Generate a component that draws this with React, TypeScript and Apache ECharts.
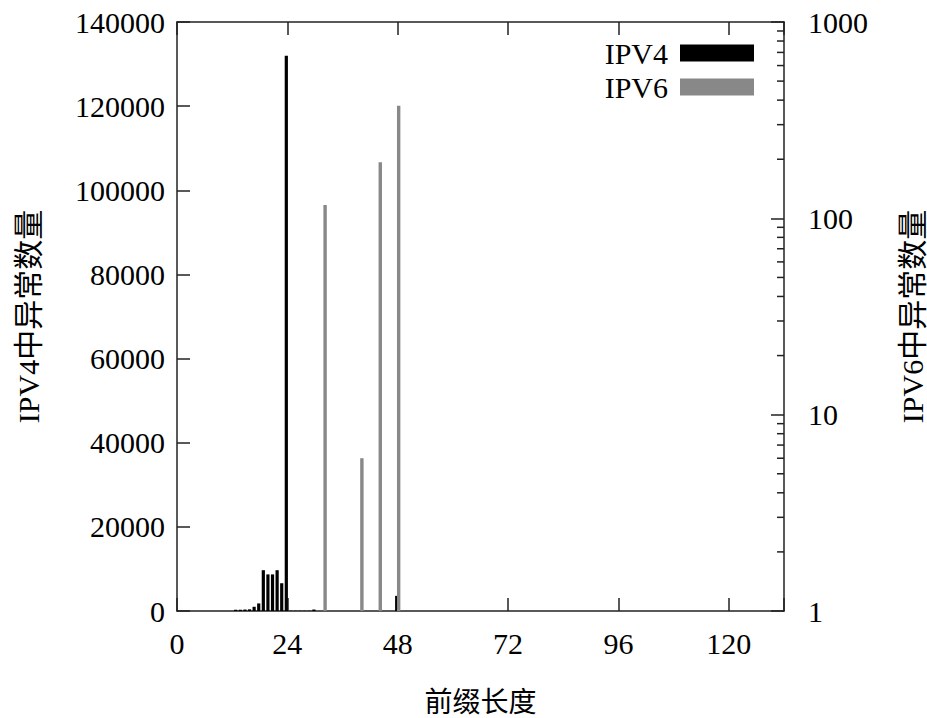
import React, { useEffect, useRef } from 'react';
import * as echarts from 'echarts';

// IPV4: prefix length -> anomaly count (left linear axis)
const ipv4Prefix = [13, 14, 15, 16, 17, 18, 19, 20, 21, 22, 23, 24, 25, 26, 27, 28, 29, 30, 48];
const ipv4Count = [300, 300, 350, 400, 1000, 1800, 9700, 8700, 8700, 9700, 6600, 132000, 60, 60, 60, 60, 60, 350, 3600];

// IPV6: prefix length -> anomaly count (right log axis)
const ipv6Prefix = [32, 40, 44, 48];
const ipv6Count = [117, 6, 193, 374];

// log-axis minor tick values (2..9 per decade)
const rightMinorTicks = [2, 3, 4, 5, 6, 7, 8, 9, 20, 30, 40, 50, 60, 70, 80, 90, 200, 300, 400, 500, 600, 700, 800, 900];

const X_MIN = 0;
const X_MAX = 132;
const X_STEP = 24;

export default function App() {
  const ref = useRef<HTMLDivElement>(null);

  useEffect(() => {
    document.body.style.margin = '0';
    const chart = echarts.init(ref.current!, null, { renderer: 'svg' });
    const serif = '"Liberation Serif", "Noto Sans CJK SC", serif';
    const axisColor = '#222';
    const lineStyle = { color: axisColor, width: 1.5 };
    const fs = 30;

    chart.setOption({
      animation: false,
      backgroundColor: '#ffffff',
      textStyle: { fontFamily: serif },
      grid: { left: 177, top: 22, width: 607, height: 589, containLabel: false, outerBoundsMode: 'none' },
      legend: {
        data: ['IPV4', 'IPV6'],
        orient: 'vertical',
        right: 173,
        top: 38,
        align: 'right',
        icon: 'rect',
        itemWidth: 74,
        itemHeight: 17,
        itemGap: 4,
        padding: 0,
        textStyle: { fontSize: fs, color: '#000', fontFamily: serif, lineHeight: 30, padding: [0, 7, 0, 0] },
      },
      xAxis: [
        {
          type: 'value',
          position: 'bottom',
          min: X_MIN,
          max: X_MAX,
          interval: X_STEP,
          axisLine: { show: true, onZero: false, lineStyle },
          axisTick: { show: true, inside: true, length: 13, lineStyle },
          axisLabel: {
            fontSize: fs,
            color: '#000',
            margin: 17,
            fontFamily: serif,
            formatter: (v: number) => (v % X_STEP === 0 ? String(v) : ''),
          },
          splitLine: { show: false },
          name: '前缀长度',
          nameLocation: 'middle',
          nameGap: 77,
          nameTextStyle: { fontSize: 28, color: '#000', fontFamily: serif },
        },
        {
          type: 'value',
          position: 'top',
          min: X_MIN,
          max: X_MAX,
          interval: X_STEP,
          axisLine: { show: true, onZero: false, lineStyle },
          axisTick: { show: true, inside: true, length: 13, lineStyle },
          axisLabel: { show: false },
          splitLine: { show: false },
        },
      ],
      yAxis: [
        {
          type: 'value',
          position: 'left',
          min: 0,
          max: 140000,
          interval: 20000,
          axisLine: { show: true, onZero: false, lineStyle },
          axisTick: { show: true, inside: true, length: 13, lineStyle },
          axisLabel: { fontSize: fs, color: '#000', margin: 12, fontFamily: serif, formatter: (v: number) => String(v) },
          splitLine: { show: false },
          name: 'IPV4中异常数量',
          nameLocation: 'middle',
          nameRotate: 90,
          nameGap: 134,
          nameTextStyle: { fontSize: fs, color: '#000', fontFamily: serif },
        },
        {
          type: 'log',
          logBase: 10,
          position: 'right',
          min: 1,
          max: 1000,
          axisLine: { show: true, onZero: false, lineStyle },
          axisTick: { show: true, inside: true, length: 13, lineStyle },
          axisLabel: {
            fontSize: fs,
            color: '#000',
            margin: 24,
            fontFamily: serif,
            align: 'left',
            formatter: (v: number) => String(v),
          },
          splitLine: { show: false },
          minorTick: { show: false },
          name: 'IPV6中异常数量',
          nameLocation: 'middle',
          nameRotate: 90,
          nameGap: 113,
          nameTextStyle: { fontSize: fs, color: '#000', fontFamily: serif },
        },
      ],
      series: [
        {
          name: 'IPV4',
          type: 'bar',
          xAxisIndex: 0,
          yAxisIndex: 0,
          barWidth: 3.2,
          barGap: '-41%',
          itemStyle: { color: '#000000' },
          data: ipv4Prefix.map((p, i) => [p, ipv4Count[i]]),
        },
        {
          name: 'IPV6',
          type: 'bar',
          xAxisIndex: 0,
          yAxisIndex: 1,
          barWidth: 3.4,
          barGap: '-41%',
          itemStyle: { color: '#888888' },
          data: ipv6Prefix.map((p, i) => [p, ipv6Count[i]]),
        },
        {
          type: 'custom',
          xAxisIndex: 0,
          yAxisIndex: 1,
          silent: true,
          z: 5,
          data: rightMinorTicks.map((v) => [X_MAX, v]),
          renderItem: (_params: any, api: any) => {
            const p = api.coord([api.value(0), api.value(1)]);
            return {
              type: 'line',
              shape: { x1: p[0] - 7, y1: p[1], x2: p[0], y2: p[1] },
              style: { stroke: axisColor, lineWidth: 1.5 },
            };
          },
        },
      ],
    });

    return () => chart.dispose();
  }, []);

  return <div ref={ref} style={{ width: 927, height: 718 }} />;
}
